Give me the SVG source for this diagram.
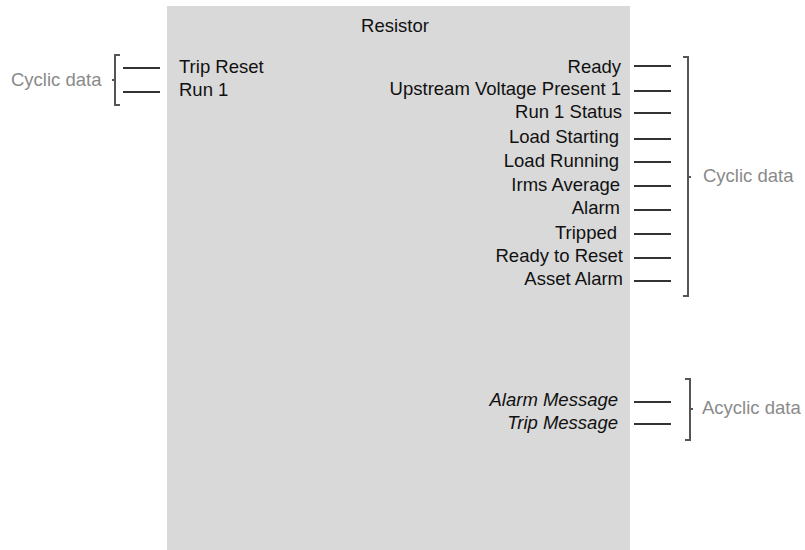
<svg xmlns="http://www.w3.org/2000/svg" width="805" height="550" viewBox="0 0 805 550">
<style>
text{font-family:"Liberation Sans",Arial,sans-serif;font-size:18.5px;fill:#111}
.r{text-anchor:end}
.i{font-style:italic}
.g{fill:#8a8a8a}
.ln{stroke:#333;stroke-width:2;fill:none}
.br{stroke:#555;stroke-width:2;fill:none}
</style>
<rect x="0" y="0" width="805" height="550" fill="#fff"/>
<g id="resistor">
<rect x="167" y="6" width="463" height="544" fill="#d9d9d9"/>
<text x="395" y="32" text-anchor="middle">Resistor</text>
<text x="179" y="73">Trip Reset</text>
<text x="179" y="96">Run 1</text>
<text class="r" x="621" y="73">Ready</text>
<text class="r" x="621" y="95">Upstream Voltage Present 1</text>
<text class="r" x="622" y="118">Run 1 Status</text>
<text class="r" x="619" y="143">Load Starting</text>
<text class="r" x="619" y="167">Load Running</text>
<text class="r" x="620" y="191">Irms Average</text>
<text class="r" x="620" y="214">Alarm</text>
<text class="r" x="617" y="239">Tripped</text>
<text class="r" x="623" y="262">Ready to Reset</text>
<text class="r" x="623" y="285">Asset Alarm</text>
<text class="r i" x="618" y="406">Alarm Message</text>
<text class="r i" x="618" y="429">Trip Message</text>
</g>
<g id="connectors">
<path class="ln" d="M123 68H160M123 92H160"/>
<path class="ln" d="M634 66H671M634 91H671M634 113H671M634 139H671M634 162H671M634 186H671M634 210H671M634 234H671M634 258H671M634 281H671"/>
<path class="ln" d="M634 402H671M634 424H671"/>
</g>
<g id="bracket-left">
<path class="br" d="M120 55H115V105H120M115 80H112"/>
<text class="g" x="11" y="86">Cyclic data</text>
</g>
<g id="bracket-right">
<path class="br" d="M683 57H688V296H683M688 177H691"/>
<text class="g" x="703" y="182">Cyclic data</text>
</g>
<g id="bracket-acyclic">
<path class="br" d="M685 379H690V440H685M690 409H693"/>
<text class="g" x="702" y="414">Acyclic data</text>
</g>
</svg>
